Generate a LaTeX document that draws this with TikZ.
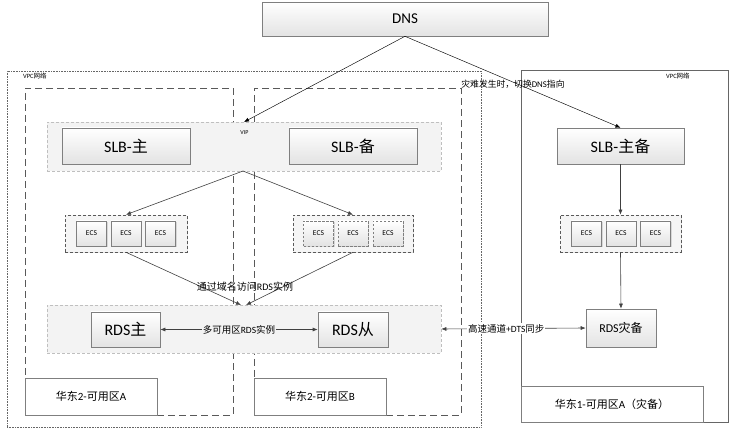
\documentclass[tikz,border=0pt]{standalone}
\usepackage{fontspec}
\setmainfont{Carlito}
\newfontfamily\cjk{Noto Sans CJK SC}
\newcommand\zh[1]{{\cjk #1}}
\usetikzlibrary{shadows,arrows.meta}
\definecolor{bandfill}{HTML}{F3F3F3}
\definecolor{bandline}{HTML}{BFBFBF}
\definecolor{boxline}{HTML}{7F7F7F}
\definecolor{zoneline}{HTML}{595959}
\tikzset{
  box/.style={draw=boxline, line width=0.6pt, top color=white, bottom color=gray!22,
    drop shadow={shadow xshift=1.2pt, shadow yshift=-1.2pt, opacity=0.25}, inner sep=0pt, align=center},
  ecsbox/.style={box, font=\fontsize{7.5}{8}\selectfont, minimum width=30pt, minimum height=25pt},
  ecsdash/.style={ecsbox, dashed, dash pattern=on 2.5pt off 1.5pt},
  group/.style={draw=zoneline, line width=0.6pt, dash pattern=on 3pt off 2pt, fill=gray!8,
    drop shadow={shadow xshift=1.2pt, shadow yshift=-1.2pt, opacity=0.2}, inner sep=0pt},
  band/.style={draw=bandline, line width=0.6pt, dash pattern=on 3pt off 2pt, fill=bandfill, inner sep=0pt},
  zone/.style={draw=zoneline, line width=0.7pt, dash pattern=on 7pt off 4pt, inner sep=0pt},
  vpcdot/.style={draw=gray!80!black, line width=0.5pt, dash pattern=on 0.8pt off 0.8pt, inner sep=0pt},
  vpcsolid/.style={draw=gray!80!black, line width=0.7pt, inner sep=0pt},
  zlabel/.style={draw=boxline, line width=0.6pt, fill=white, inner sep=0pt, font=\fontsize{11}{12}\selectfont},
  arr/.style={-{Latex[length=5pt,width=4pt]}, draw=black!75, line width=0.6pt},
  darr/.style={{Latex[length=5pt,width=4pt]}-{Latex[length=5pt,width=4pt]}, draw=black!75, line width=0.6pt},
  thin/.style={draw=black, line width=0.45pt},
  lbl/.style={inner sep=1pt, font=\fontsize{9.5}{11}\selectfont},
  small/.style={inner sep=0pt, font=\fontsize{6.5}{7}\selectfont}
}
\begin{document}
\begin{tikzpicture}[x=1pt,y=-1pt]
\useasboundingbox (0,0) rectangle (732,430);
% containers
\node[vpcdot, minimum width=474pt, minimum height=356pt] (vpcL) at (244,249) {};
\node[zone, minimum width=208pt, minimum height=327pt] (zoneA) at (129,251.5) {};
\node[zone, minimum width=207pt, minimum height=327pt] (zoneB) at (357.5,251.5) {};
\node[vpcsolid, minimum width=207pt, minimum height=352pt] (vpcR) at (624.5,246) {};
\node[small, anchor=west] (vpcLt) at (23,76) {VPC\zh{网络}};
\node[small, anchor=west] (vpcRt) at (666,76) {VPC\zh{网络}};
% bands
\node[band, minimum width=394pt, minimum height=49pt] (slbband) at (244,146.5) {};
\node[band, minimum width=394pt, minimum height=48pt] (rdsband) at (244,329) {};
% DNS
\node[box, minimum width=286pt, minimum height=34pt, font=\fontsize{15}{17}\selectfont] (dns) at (405,19) {DNS};
% SLB
\node[box, minimum width=128pt, minimum height=36pt, font=\fontsize{16}{18}\selectfont] (slbA) at (126,146) {SLB-\zh{主}};
\node[box, minimum width=128pt, minimum height=36pt, font=\fontsize{16}{18}\selectfont] (slbB) at (353,146) {SLB-\zh{备}};
\node[box, minimum width=127pt, minimum height=36pt, font=\fontsize{16}{18}\selectfont] (slbC) at (620.5,146) {SLB-\zh{主备}};
\node[small, font=\fontsize{6}{6}\selectfont] (vip) at (244.5,133) {VIP};
% ECS groups
\node[group, minimum width=122pt, minimum height=37pt] (ecsA) at (126,233.5) {};
\node[ecsbox] (ecsA1) at (91.5,233.5) {ECS};
\node[ecsbox] (ecsA2) at (126,233.5) {ECS};
\node[ecsbox] (ecsA3) at (160.5,233.5) {ECS};
\node[group, minimum width=120pt, minimum height=37pt] (ecsB) at (353,233.5) {};
\node[ecsdash] (ecsB1) at (318.5,233.5) {ECS};
\node[ecsdash] (ecsB2) at (353,233.5) {ECS};
\node[ecsdash] (ecsB3) at (388,233.5) {ECS};
\node[group, minimum width=121pt, minimum height=37pt] (ecsC) at (620.5,233.5) {};
\node[ecsbox] (ecsC1) at (586.5,233.5) {ECS};
\node[ecsbox] (ecsC2) at (621,233.5) {ECS};
\node[ecsbox] (ecsC3) at (655.5,233.5) {ECS};
% RDS
\node[box, minimum width=69pt, minimum height=35pt, font=\fontsize{16}{18}\selectfont] (rdsA) at (125.5,329.5) {RDS\zh{主}};
\node[box, minimum width=70pt, minimum height=35pt, font=\fontsize{16}{18}\selectfont] (rdsB) at (353,329.5) {RDS\zh{从}};
\node[box, minimum width=70pt, minimum height=38pt, font=\fontsize{12}{14}\selectfont] (rdsC) at (621,328) {RDS\zh{灾备}};
% zone labels
\node[zlabel, minimum width=132pt, minimum height=37pt] (zlA) at (91,396.5) {\zh{华东}2-\zh{可用区}A};
\node[zlabel, minimum width=132pt, minimum height=37pt] (zlB) at (320,396.5) {\zh{华东}2-\zh{可用区}B};
\node[zlabel, minimum width=182pt, minimum height=36pt] (zlC) at (612,404) {\zh{华东}1-\zh{可用区}A\zh{（灾备）}};
% connectors
\coordinate (vipPt) at (244,122);
\coordinate (bandBot) at (243,171);
\coordinate (rdsInA) at (241,305);
\coordinate (rdsInB) at (246,305);
\draw[thin, -{Latex[length=5pt,width=4pt]}] (dns.south) -- (vipPt);
\draw[thin, -{Latex[length=5pt,width=4pt]}] (dns.south) -- (slbC.north);
\node[lbl, font=\fontsize{8.8}{10}\selectfont] (dr) at (513,84) {\zh{灾难发生时，切换}DNS\zh{指向}};
\draw[arr] (bandBot) -- (ecsA.north);
\draw[arr] (bandBot) -- (ecsB.north);
\draw[arr] (ecsA.south) -- (rdsInA);
\draw[arr] (ecsB.south) -- (rdsInB);
\node[lbl, font=\fontsize{10}{12}\selectfont] (via) at (245,287) {\zh{通过域名访问}RDS\zh{实例}};
\draw[darr] (rdsA.east) -- node[lbl, fill=bandfill] (multi) {\zh{多可用区}RDS\zh{实例}} (rdsB.west);
\draw[darr] (rdsband.east) -- node[lbl, fill=white, pos=0.45] (dts) {\zh{高速通道}+DTS\zh{同步}} (rdsC.west);
\draw[arr] (slbC.south) -- (ecsC.north);
\draw[arr] (ecsC.south) -- (rdsC.north);
\end{tikzpicture}
\end{document}
